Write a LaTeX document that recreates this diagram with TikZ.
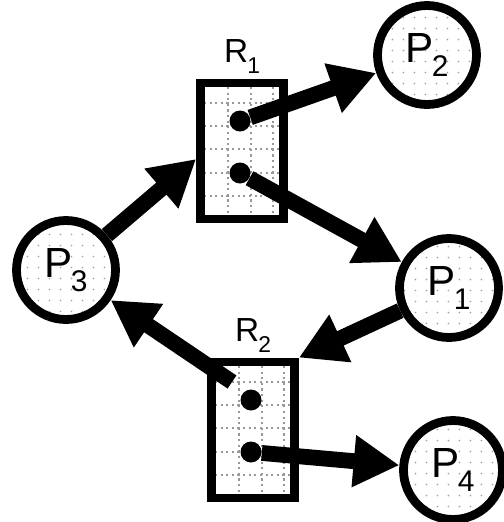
\documentclass[tikz,border=0pt]{standalone}
\usepackage{fontspec}
\setmainfont{Liberation Sans}
\usetikzlibrary{positioning,arrows.meta,calc,patterns.meta}

\tikzdeclarepattern{
  name=speckle,
  type=uncolored,
  bounding box={(0pt,0pt) and (6.5pt,6.5pt)},
  tile size={(6.5pt,6.5pt)},
  code={\fill (3.25pt,3.25pt) circle (0.55pt);}
}
\newcommand{\pname}[1]{P\kern-1pt\raisebox{-0.32em}{\fontsize{17}{17}\selectfont #1}}
\newcommand{\rname}[1]{R\kern-0.5pt\raisebox{-0.3em}{\fontsize{13}{13}\selectfont #1}}

\begin{document}
\begin{tikzpicture}[
    x=0.02cm,y=-0.02cm,
    proc/.style={circle,draw,line width=5pt,minimum size=1.98cm,inner sep=0pt,
      preaction={fill=white},pattern=speckle,pattern color=gray!75,
      font=\fontsize{24}{26}\selectfont},
    res/.style={draw,line width=5pt,minimum width=1.66cm,minimum height=2.72cm,inner sep=0pt},
    tok/.style={circle,fill=black,minimum size=0.42cm,inner sep=0pt},
    gridln/.style={gray!80,dotted,line width=1.2pt},
    arr/.style={-{Triangle[length=26pt,width=28pt]},line width=9pt},
    lbl/.style={font=\fontsize{19}{21}\selectfont,inner sep=0pt}
  ]
    \useasboundingbox (0,0) rectangle (504,522);

    % resources, grid first so the frame sits on top
    \foreach \cx/\cy in {242/151,253/430} {
      \foreach \dx in {-14,9,31}
        \draw[gridln] (\cx+\dx,\cy-64) -- (\cx+\dx,\cy+64);
      \foreach \dy in {-48,-25,-2,22,45}
        \draw[gridln] (\cx-38,\cy+\dy) -- (\cx+38,\cy+\dy);
    }
    \node[res] (R1) at (242,151) {};
    \node[res] (R2) at (253,430) {};
    \node[lbl,above=3pt of R1] (r1lbl) {\rname{1}};
    \node[lbl,above=3pt of R2] (r2lbl) {\rname{2}};

    \node[tok] (a1) at (240,121) {};
    \node[tok] (a2) at (240,173) {};
    \node[tok] (b1) at (251,400) {};
    \node[tok] (b2) at (251,452) {};

    % processes
    \node[proc] (P1) at (449,288) {\pname{1}};
    \node[proc] (P2) at (427,55) {\pname{2}};
    \node[proc] (P3) at (66,270) {\pname{3}};
    \node[proc] (P4) at (453,470) {\pname{4}};

    \coordinate (r1in) at ($(R1.west)+(0,8)$);
    \coordinate (r2out) at (232,382);

    \draw[arr] (P3) -- (r1in);
    \draw[arr] (a1) -- (P2);
    \draw[arr] (a2) -- (P1);
    \draw[arr] (P1) -- (R2.north east);
    \draw[arr] (r2out) -- (P3);
    \draw[arr] (b2) -- (P4);
  \end{tikzpicture}
\end{document}
